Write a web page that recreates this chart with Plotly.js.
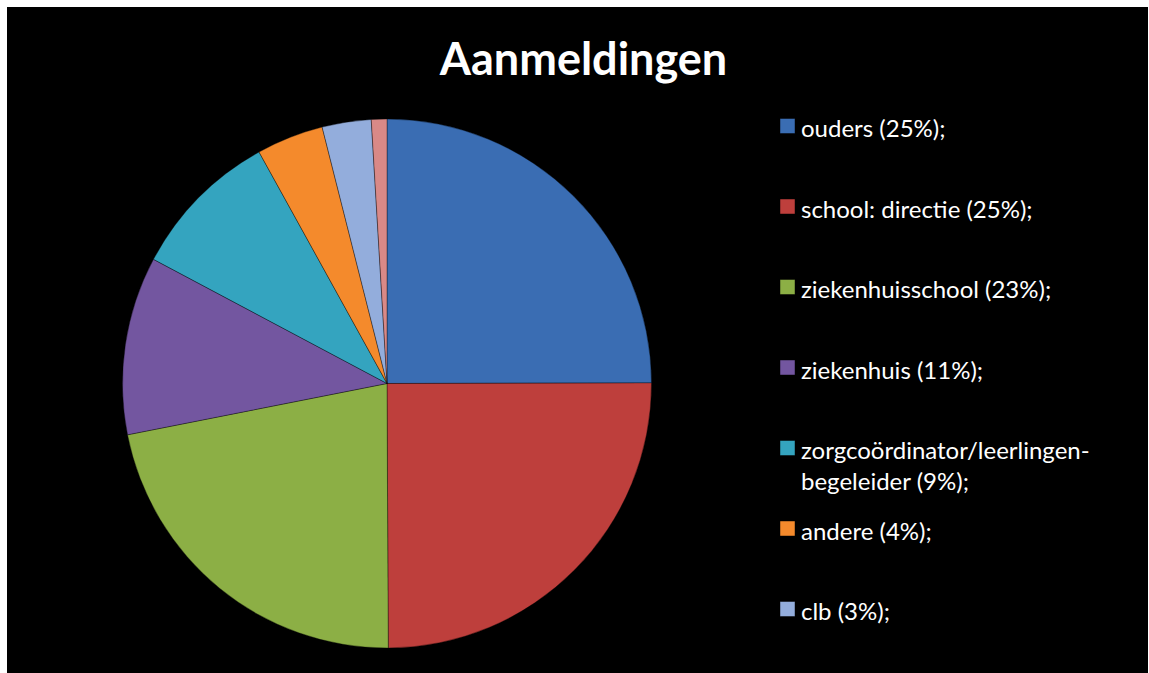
<!DOCTYPE html>
<html>
<head>
<meta charset="utf-8">
<script src="https://cdn.plot.ly/plotly-3.0.1.min.js"></script>
<style>
  html, body { margin: 0; padding: 0; background: #ffffff; }
  #chart { position: absolute; left: 7px; top: 7px; width: 1141px; height: 667px; }
</style>
</head>
<body>
<div id="chart"></div>
<script>
// Data
const categories = [
  "ouders (25%);",
  "school: directie (25%);",
  "ziekenhuisschool (23%);",
  "ziekenhuis (11%);",
  "zorgcoördinator/leerlingen-<br>begeleider (9%);",
  "andere (4%);",
  "clb (3%);",
  "onbekend (1%);"
];
const values = [25, 25, 22, 10.9, 9.2, 4.1, 3.0, 0.95];
const colors = ["#3A6DB3", "#BE3F3C", "#8CAF45", "#7356A0", "#34A4BF", "#F48A2C", "#93ADDC", "#D98987"];
const legendShown = 7; // the last entry does not fit in the legend box
const titleText = "Aanmeldingen";

const W = 1141, H = 667;
const cx = 380, cy = 376.5, r = 264.5;

const trace = {
  type: "pie",
  labels: categories,
  values: values,
  sort: false,
  direction: "clockwise",
  rotation: 0,
  textinfo: "none",
  hoverinfo: "label",
  showlegend: false,
  marker: { colors: colors, line: { color: "rgba(0,0,0,0.35)", width: 1 } },
  domain: { x: [(cx - r) / W, (cx + r) / W], y: [(H - cy - r) / H, (H - cy + r) / H] }
};

const annotations = [];
const shapes = [];
const legX0 = 773, sq = 15, legTop = 119, legStep = 80.5;
for (let i = 0; i < legendShown; i++) {
  const yc = legTop + i * legStep;
  shapes.push({
    type: "rect", xref: "paper", yref: "paper",
    x0: legX0 / W, x1: (legX0 + sq) / W,
    y0: 1 - (yc + sq / 2) / H, y1: 1 - (yc - sq / 2) / H,
    fillcolor: colors[i], line: { color: "rgba(0,0,0,0.45)", width: 1 }
  });
  annotations.push({
    xref: "paper", yref: "paper",
    x: (legX0 + sq + 4) / W, y: 1 - (yc - 15) / H,
    xanchor: "left", yanchor: "top", align: "left",
    text: categories[i], showarrow: false,
    font: { family: "Lato, 'Open Sans', sans-serif", size: 24, color: "#ffffff" }
  });
}

const layout = {
  width: W, height: H,
  paper_bgcolor: "#000000",
  plot_bgcolor: "#000000",
  margin: { l: 0, r: 0, t: 0, b: 0 },
  showlegend: false,
  title: {
    text: "<b>" + titleText + "</b>",
    font: { family: "Lato, 'Open Sans', sans-serif", size: 45, color: "#ffffff" },
    x: 576.5 / W, xanchor: "center", xref: "paper",
    y: 1 - 52 / H, yanchor: "middle", yref: "container"
  },
  shapes: shapes,
  annotations: annotations
};

Plotly.newPlot("chart", [trace], layout, { displayModeBar: false, staticPlot: true });
</script>
</body>
</html>
